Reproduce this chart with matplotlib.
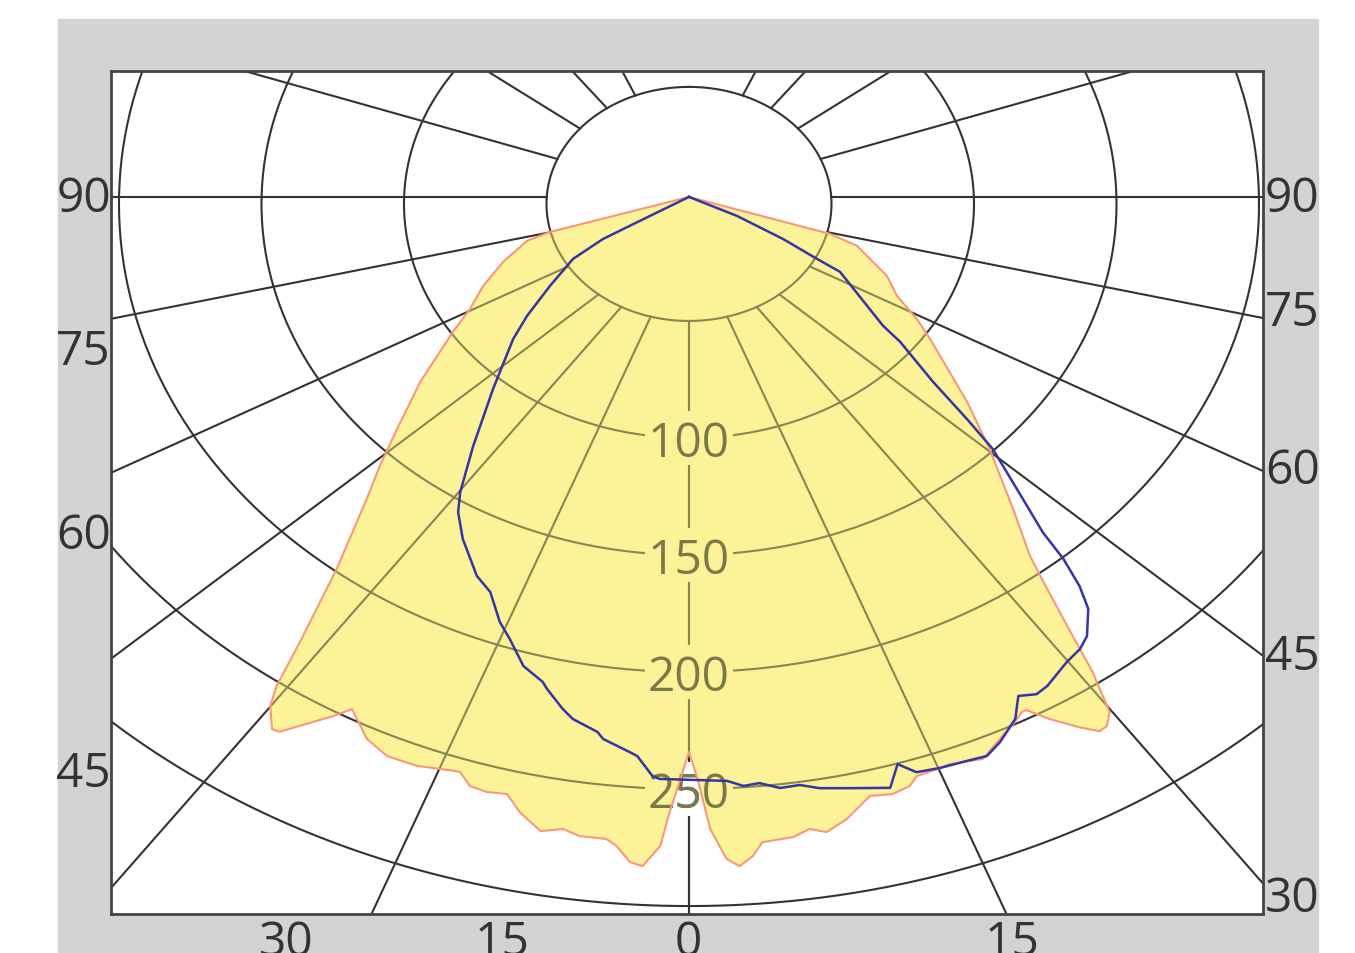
import numpy as np
import matplotlib
matplotlib.use("Agg")
import matplotlib.pyplot as plt
from matplotlib.patches import Rectangle

plt.rcParams['font.family'] = ['Open Sans', 'DejaVu Sans']

# luminous intensity curves, gamma in degrees (+ right half, - left half), cd
orange_gamma = [180.0, 75.5, 73.1, 69.7, 66.1, 61.7, 58.4, 55.7, 49.1, 45.2,
                41.1, 38.5, 37.6, 36.2, 35.3, 34.2, 33.3, 32.6, 31.5, 29.9,
                28.7, 28.3, 27.3, 25.5, 23.5, 20.9, 19.8, 18.1, 17.3, 15.8,
                14.1, 11.9, 10.2, 9.0, 7.7, 5.4, 4.6, 3.6, 2.7, 1.6,
                0.7, 0.0, -0.7, -1.5, -2.1, -3.3, -4.2, -5.3, -6.1, -8.1,
                -9.4, -11.0, -12.9, -14.2, -15.8, -17.2, -18.3, -18.7, -21.7, -24.2,
                -26.3, -27.9, -28.7, -29.7, -32.5, -33.1, -34.4, -35.1, -36.1, -38.4,
                -41.9, -44.1, -46.8, -51.1, -56.6, -59.7, -64.1, -69.2, -74.5, -76.2]
orange_cd = [3.0, 51.1, 61.6, 67.7, 76.0, 82.9, 93.9, 102.4, 129.1, 148.7,
             173.0, 192.2, 203.8, 226.6, 245.1, 262.6, 267.0, 267.4, 262.3, 253.9,
             246.6, 246.5, 249.2, 253.3, 258.6, 256.2, 256.7, 257.2, 260.5, 262.1,
             260.8, 268.6, 272.7, 270.4, 273.0, 273.9, 279.5, 283.5, 280.2, 267.2,
             245.7, 234.2, 245.7, 259.9, 274.5, 283.4, 282.0, 275.5, 272.9, 272.8,
             270.7, 273.0, 266.5, 260.1, 261.1, 260.3, 255.7, 255.8, 258.4, 258.6,
             255.0, 249.0, 246.1, 251.9, 267.4, 267.9, 260.1, 251.6, 231.7, 199.0,
             169.3, 155.9, 140.5, 121.2, 99.2, 89.0, 80.3, 69.8, 59.0, 50.2]

blue_gamma = [180.0, 73.1, 65.6, 62.4, 61.3, 52.6, 51.5, 48.4, 46.7, 45.5,
              42.9, 41.5, 40.9, 40.0, 39.0, 37.1, 35.8, 34.1, 31.4, 30.2,
              28.8, 28.2, 27.5, 25.4, 23.9, 22.3, 20.1, 18.2, 17.0, 15.8,
              12.5, 10.4, 8.9, 7.3, 5.7, 4.4, 3.1, -2.4, -3.0, -4.4,
              -5.1, -7.5, -8.1, -10.5, -11.6, -13.5, -14.1, -16.4, -18.7, -20.4,
              -22.8, -25.1, -29.0, -31.6, -33.1, -36.2, -41.0, -46.9, -49.9, -54.3,
              -60.0, -63.6, -69.5]
blue_cd = [3.0, 17.6, 36.2, 50.7, 60.4, 85.7, 94.7, 114.5, 134.0, 149.5,
           172.1, 187.3, 200.6, 213.2, 222.6, 231.5, 234.5, 236.4, 241.3, 242.4,
           239.9, 243.5, 248.0, 254.5, 258.0, 257.2, 256.6, 255.6, 250.3, 259.3,
           255.7, 253.8, 251.3, 251.6, 248.7, 249.4, 246.9, 245.9, 244.8, 236.6,
           235.1, 230.6, 227.9, 223.8, 220.3, 213.2, 210.6, 205.8, 196.2, 190.5,
           179.9, 175.5, 163.7, 154.6, 147.0, 128.2, 104.8, 84.5, 74.3, 60.1,
           47.0, 33.7, 14.6]

rings = [50, 100, 150, 200, 250, 300]
ring_labels = [100, 150, 200, 250]

left_labels = ['90', '75', '60', '45']
right_labels = ['90', '75', '60', '45', '30']
bottom_labels = ['30', '15', '0', '15']

# grid rays: gamma, drawn direction and crossing of the 0-axis (chart units)
ray_gamma = [0, 15, 30, 45, 60, 75, 90, 105, 120, 135, 150]
ray_dir = [0, 21.0, 35.8, 47.7, 61.2, 76.5, 90, 108.9, 127.0, 142.5, 156.3]
ray_v0 = [0, -13.2, -11.1, -9.8, -3.4, -0.4, 3.0, 3.4, 3.4, 3.4, 3.4]


def to_xy(g, i):
    g = np.radians(np.asarray(g, float))
    i = np.asarray(i, float)
    return i * np.sin(g), -i * np.cos(g)


W, H = 1355, 954
fig = plt.figure(figsize=(W / 100, H / 100), dpi=100)
fig.patches.append(Rectangle((58 / W, 0), (1318 - 58) / W, 1 - 20 / H,
                             transform=fig.transFigure, color='#d2d3d5', zorder=-1))

ax = fig.add_axes([111 / W, 1 - 915 / H, (1263 - 111) / W, (915 - 72) / H])
ax.set_zorder(2)
ax.set_facecolor('white')
ax.set_xlim(-202.8, 201.4)
ax.set_ylim(-303.4, 56.8)
ax.set_xticks([])
ax.set_yticks([])
for s in ax.spines.values():
    s.set_color('#444444')
    s.set_linewidth(2)
    s.set_zorder(10)

fill_c = '#fcf398'
ou, ov = to_xy(orange_gamma, orange_cd)
poly = ax.fill(ou, ov, color=fill_c, lw=0, zorder=5)[0]

t = np.linspace(0, 2 * np.pi, 500)


def draw_grid(color, z, clip=None, label_bg='white', label_c='#444444'):
    arts = []
    for r in rings:
        arts += ax.plot(r * np.sin(t), r * np.cos(t), color=color, lw=1.5, zorder=z)
    r0 = rings[0]
    for d, v0 in zip(ray_dir, ray_v0):
        d = np.radians(d)
        for side in (-1, 1):
            du, dv = side * np.sin(d), -np.cos(d)
            # rays start where they leave the innermost ring
            b = v0 * dv
            s0 = -b + np.sqrt(b * b - (v0 * v0 - r0 * r0))
            arts += ax.plot([s0 * du, 700 * du], [v0 + s0 * dv, v0 + 700 * dv],
                            color=color, lw=1.5, zorder=z)
    for val in ring_labels:
        # blank patch behind the ring value
        bg = Rectangle((-15.5, -val - 11.5), 31, 23, facecolor=label_bg,
                       edgecolor='none', zorder=z + 0.05)
        ax.add_patch(bg)
        arts.append(bg)
        arts.append(ax.text(0, -val - 7.5, str(val), ha='center', va='baseline',
                            fontsize=34.5, color=label_c, zorder=z + 0.1))
    if clip is not None:
        for a in arts:
            a.set_clip_path(clip)


draw_grid('#333333', 1)
# grid seen through the lit area
draw_grid('#8a8552', 5.5, clip=poly, label_bg=fill_c, label_c='#7d784a')

ax.plot(np.append(ou, ou[0]), np.append(ov, ov[0]), color='#f7987a', lw=1.5, zorder=6)

bu, bv = to_xy(blue_gamma, blue_cd)
ax.plot(np.append(bu, bu[0]), np.append(bv, bv[0]), color='#3535a5', lw=1.8, zorder=7)

# angle labels round the frame
lab_kw = dict(fontsize=34.5, color='#333333', va='baseline')
for txt, yc in zip(left_labels, [195, 348, 532, 770]):
    fig.text(111 / W, 1 - (yc + 17.5) / H, txt, ha='right', **lab_kw)
for txt, yc in zip(right_labels, [195, 309, 467, 652, 895]):
    fig.text(1265 / W, 1 - (yc + 17.5) / H, txt, ha='left', **lab_kw)
for txt, xc in zip(bottom_labels, [286, 502, 688, 1012]):
    fig.text(xc / W, 1 - (921 + 35) / H, txt, ha='center', **lab_kw)

fig.savefig('out.png', dpi=100)
